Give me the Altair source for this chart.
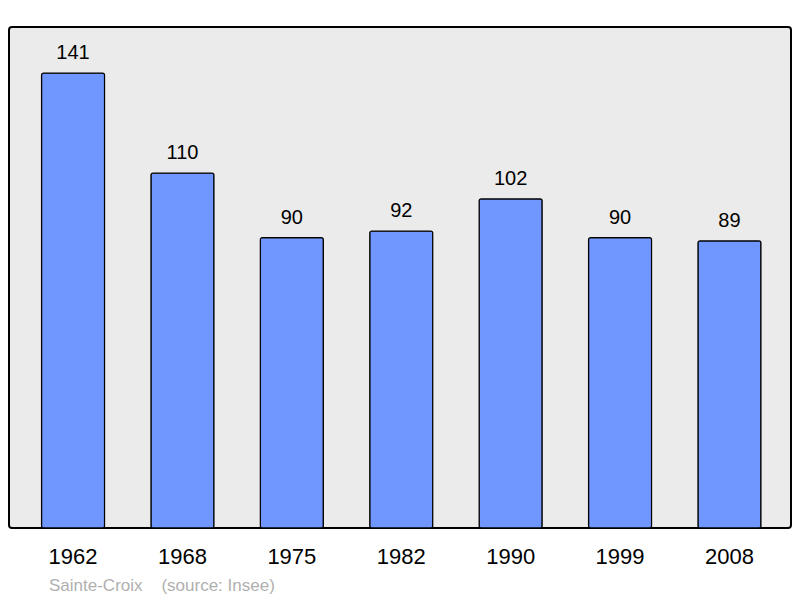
import altair as alt
import pandas as pd

years = ["1962", "1968", "1975", "1982", "1990", "1999", "2008"]
population = [141, 110, 90, 92, 102, 90, 89]

df = pd.DataFrame({"year": years, "pop": population})

base = alt.Chart(df)

bars = base.mark_bar(
    color="#7096ff", stroke="black", strokeWidth=1.2, cornerRadius=2
).encode(
    x=alt.X("year:N", sort=years,
            scale=alt.Scale(paddingInner=0.424, paddingOuter=0.286, align=0.52),
            axis=alt.Axis(title=None, domain=False, ticks=False, labelAngle=0,
                          labelFont="Liberation Sans", labelFontSize=22,
                          labelColor="black", labelBaseline="alphabetic",
                          labelPadding=35)),
    y=alt.Y("pop:Q", scale=alt.Scale(domain=[0, 155.3], nice=False, zero=True),
            axis=None),
)

labels = base.mark_text(
    font="Liberation Sans", fontSize=20, color="black", dy=-14, baseline="alphabetic"
).encode(
    x=alt.X("year:N", sort=years),
    y="pop:Q",
    text="pop:Q",
)

chart = (bars + labels).properties(
    width=782, height=501,
    autosize=alt.AutoSizeParams(type="none"),
    padding={"left": 1, "top": 19, "right": 1, "bottom": 68},
    title=alt.TitleParams(
        "Sainte-Croix\u00a0\u00a0\u00a0\u00a0(source: Insee)", orient="bottom", anchor="start",
        font="Liberation Sans", fontSize=17, fontWeight="normal", color="#b0b0b0",
        dx=40, offset=24, baseline="alphabetic",
    ),
).configure_view(
    fill="#ebebeb", stroke="black", strokeWidth=2, cornerRadius=3
)

chart.save("out.html", embed_options={"renderer": "svg", "actions": False})
